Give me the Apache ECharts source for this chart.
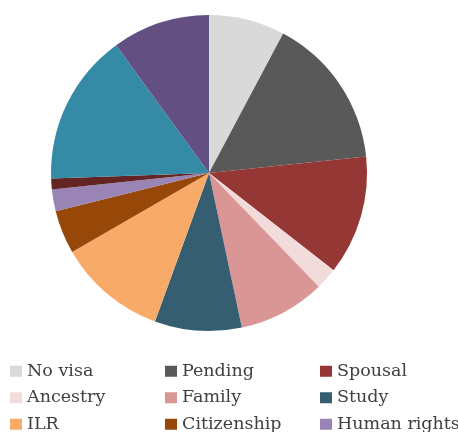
<!DOCTYPE html>
<html>
<head>
<meta charset="utf-8">
<script src="https://cdn.jsdelivr.net/npm/echarts@6/dist/echarts.min.js"></script>
<style>
  html, body { margin: 0; padding: 0; background: #fff; }
  #chart { width: 458px; height: 432px; }
</style>
</head>
<body>
<div id="chart"></div>
<script>
// Visa status categories, counts and slice colours
const categories = ['No visa', 'Pending', 'Spousal', 'Ancestry', 'Family', 'Study',
  'ILR', 'Citizenship', 'Human rights', 'Work', 'EU settled', 'Other'];
const counts = [7, 14, 11, 2, 8, 8, 10, 4, 2, 1, 14, 9];
const colors = ['#d9d9d9', '#595959', '#953735', '#f2dcdb', '#d99694', '#365e71',
  '#f8ab69', '#974707', '#9a84b6', '#632523', '#358ba5', '#644f83'];

const chart = echarts.init(document.getElementById('chart'), null, { renderer: 'canvas' });

chart.setOption({
  animation: false,
  color: colors,
  legend: {
    left: 10,
    top: 358,
    width: 470,
    padding: 0,
    orient: 'horizontal',
    itemWidth: 12,
    itemHeight: 11,
    itemGap: 0,
    icon: 'rect',
    textStyle: {
      fontFamily: 'DejaVu Serif',
      fontSize: 17.5,
      color: '#404040',
      width: 138,
      lineHeight: 26.5,
      overflow: 'truncate'
    },
    data: categories
  },
  series: [{
    type: 'pie',
    center: [209, 173],
    radius: [0, 158],
    startAngle: 90,
    clockwise: true,
    label: { show: false },
    labelLine: { show: false },
    emphasis: { disabled: true },
    data: categories.map((name, i) => ({ name, value: counts[i] }))
  }]
});
</script>
</body>
</html>
